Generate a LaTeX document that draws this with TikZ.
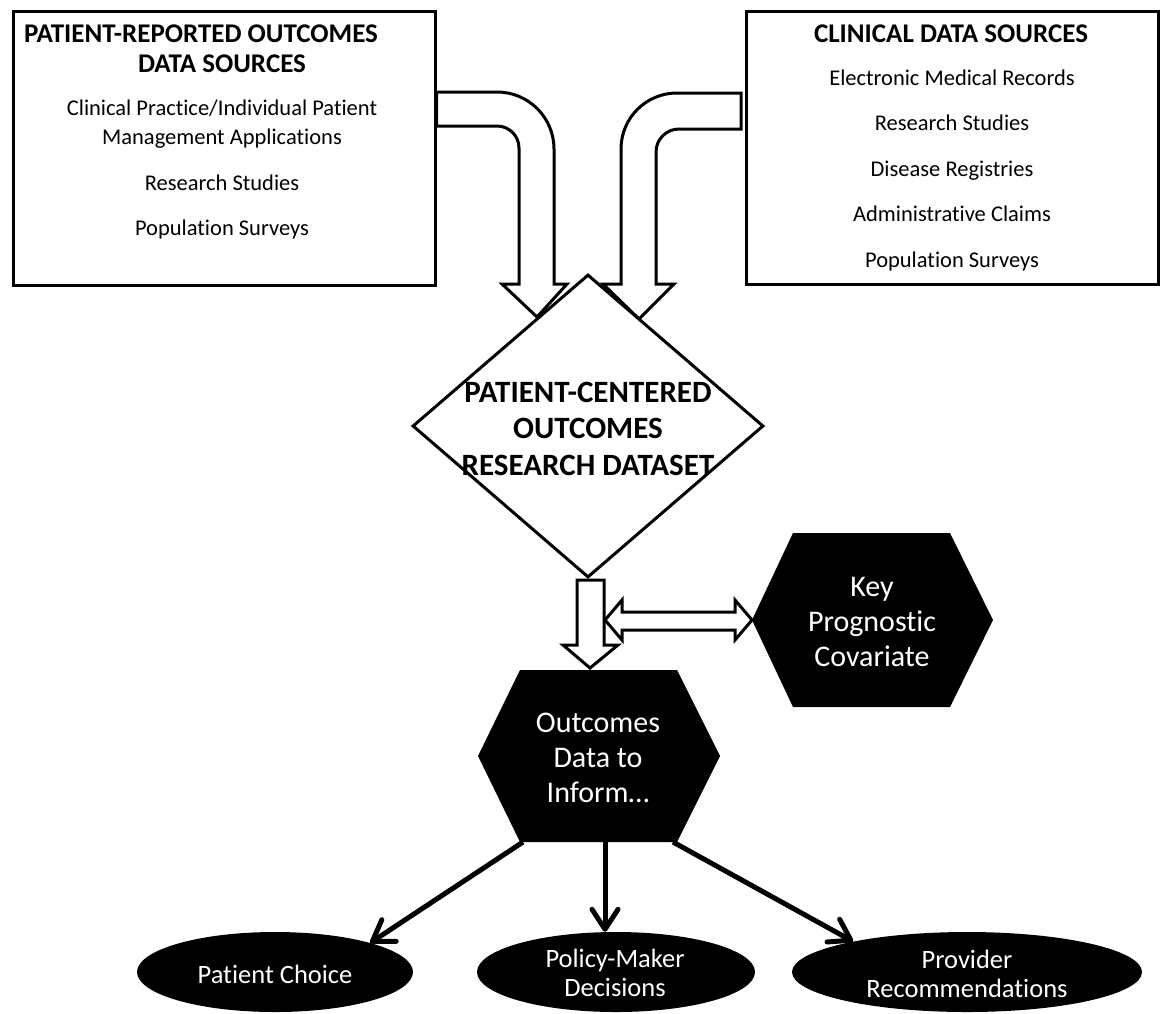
\documentclass[tikz,border=0pt]{standalone}
\usepackage{fontspec}
\setmainfont{Carlito}[Ligatures=NoCommon]
\usetikzlibrary{shapes.geometric,arrows.meta}
\newcommand\bodyfont{\fontsize{22.5}{29}\selectfont}
\newcommand\headfont{\fontsize{27}{30}\selectfont\bfseries}
\newcommand\diafont{\fontsize{31}{36.5}\selectfont\bfseries}
\newcommand\hexfont{\fontsize{30}{35}\selectfont}
\newcommand\ellfont{\fontsize{26.5}{29.5}\selectfont}
\begin{document}
\begin{tikzpicture}[x=1pt,y=-1pt,
  srcbox/.style={draw=black,line width=3pt,fill=white,rectangle,inner sep=0pt},
  blockarrow/.style={draw=black,line width=3pt,fill=white,line join=miter},
  txt/.style={inner sep=0pt,text height=0.68em,text depth=0.18em,align=center},
  hexshape/.style={fill=black},
  oval/.style={ellipse,fill=black,inner sep=0pt},
  wtxt/.style={text=white,inner sep=0pt,align=center},
  conn/.style={line width=5pt,-{Straight Barb[length=20pt,width=26pt,round]}}]
\useasboundingbox (0,0) rectangle (1161,1013);
\fill[white] (0,0) rectangle (1161,1013);

% source boxes
\node[srcbox,minimum width=422pt,minimum height=273.5pt] (prbox) at (224,148.25) {};
\node[srcbox,minimum width=411.5pt,minimum height=272.5pt] (cbox) at (952.25,147.75) {};

% curved block arrows
\draw[blockarrow] (prbox.east |- 0,92) -- (497,92)
  .. controls (528.5,92) and (554,117.5) .. (554,149)
  -- (554,284) -- (567,284) -- (537,317) -- (502,284) -- (519,284) -- (519,148)
  .. controls (519,135.85) and (509.15,126) .. (497,126) -- (prbox.east |- 0,126) -- cycle;
\draw[blockarrow] (741,93) -- (677,93)
  .. controls (646,93) and (621,118) .. (621,149)
  -- (621,284) -- (603,284) -- (639,319) -- (674,284) -- (656,284) -- (656,152)
  .. controls (656,139.3) and (666.3,129) .. (679,129) -- (741,129) -- cycle;

% diamond
\node[diamond,draw=black,line width=3pt,fill=white,minimum width=351pt,minimum height=303pt,inner sep=0pt] (dia) at (588,426) {};

% down arrow and double arrow
\draw[blockarrow] (577,580) -- (604,580) -- (604,645) -- (618,645) -- (590,668) -- (563,645) -- (577,645) -- cycle;
\draw[blockarrow] (605,620) -- (622,600) -- (622,612) -- (735,612) -- (735,600) -- (752,620)
  -- (735,640) -- (735,630) -- (622,630) -- (622,640) -- cycle;

% hexagons
\coordinate (kpc) at (872.5,620);
\fill[hexshape] (793,533) -- (950,533) -- (993,620) -- (950,707) -- (793,707) -- (752,620) -- cycle;
\coordinate (odi) at (598.5,756);
\fill[hexshape] (520,670) -- (677,670) -- (720,756) -- (677,842) -- (520,842) -- (478,756) -- cycle;
\coordinate (o1) at (523,842);
\coordinate (o2) at (605,842);
\coordinate (o3) at (673,842);

% ellipses
\node[oval,minimum width=276pt,minimum height=80pt] (pc) at (275,972) {};
\node[oval,minimum width=278pt,minimum height=80pt] (pm) at (616,972) {};
\node[oval,minimum width=350pt,minimum height=80pt] (pr) at (967,972) {};

% connectors
\draw[conn] (o1) -- (pc.17.5);
\draw[conn] (o2) -- (o2 |- pm.north);
\draw[conn] (o3) -- (pr.165.7);

% texts: left box
\node[txt,font=\headfont] (l1) at (201,40) {PATIENT-REPORTED OUTCOMES};
\node[txt,font=\headfont] (l2) at (222,70) {DATA SOURCES};
\node[txt,font=\bodyfont] (l3) at (222,113) {Clinical Practice/Individual Patient};
\node[txt,font=\bodyfont] (l4) at (222,142) {Management Applications};
\node[txt,font=\bodyfont] (l5) at (222,188) {Research Studies};
\node[txt,font=\bodyfont] (l6) at (222,233) {Population Surveys};
% right box
\node[txt,font=\headfont] (r1) at (951,40) {CLINICAL DATA SOURCES};
\node[txt,font=\bodyfont] (r2) at (952,83) {Electronic Medical Records};
\node[txt,font=\bodyfont] (r3) at (952,128) {Research Studies};
\node[txt,font=\bodyfont] (r4) at (952,174) {Disease Registries};
\node[txt,font=\bodyfont] (r5) at (952,219) {Administrative Claims};
\node[txt,font=\bodyfont] (r6) at (952,265) {Population Surveys};
% diamond text
\node[inner sep=0pt,align=center,font=\diafont] (diat) at (588,428.5) {PATIENT-CENTERED\\OUTCOMES\\RESEARCH DATASET};
% hexagon texts
\node[wtxt,font=\hexfont] (kpct) at (872,622) {Key\\Prognostic\\Covariate};
\node[wtxt,font=\hexfont] (odit) at (598,758) {Outcomes\\Data to\\Inform\ldots};
% ellipse texts
\node[wtxt,font=\ellfont] (pct) at (275,974) {Patient Choice};
\node[wtxt,font=\ellfont] (pmt) at (615,973) {Policy-Maker\\Decisions};
\node[wtxt,font=\ellfont] (prt) at (967,974) {Provider\\Recommendations};
\end{tikzpicture}
\end{document}
